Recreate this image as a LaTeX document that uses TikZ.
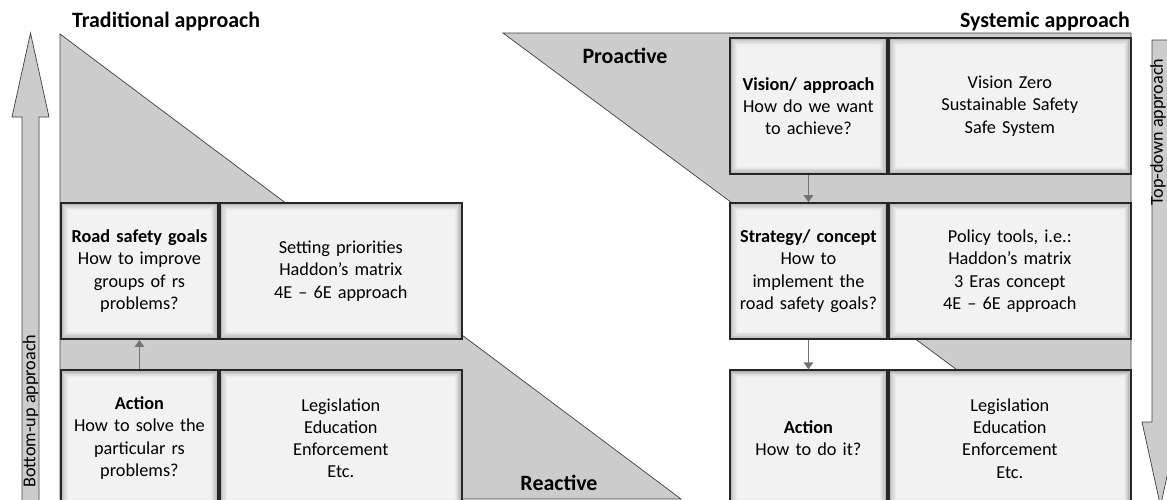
\documentclass[tikz,border=0pt]{standalone}
\usepackage{fontspec}
\setmainfont{Carlito}
\usetikzlibrary{positioning,arrows.meta}

\tikzset{
  qbox/.style={draw=black!85, line width=1.6pt, inner sep=2pt, align=center,
    minimum width=4.71cm, minimum height=4.08cm, text width=4.5cm,
    font=\fontsize{15.6}{19}\selectfont,
    path picture={
      \foreach \d/\c in {0/32,1/26,2/20,3/15,4/11,5/8,6/6,7/5}
        \fill[black!\c] ([xshift=\d pt,yshift=-\d pt]path picture bounding box.north west)
          rectangle ([xshift=-\d pt,yshift=\d pt]path picture bounding box.south east);
    }},
  abox/.style={qbox, minimum width=7.26cm, text width=7cm},
  wedge/.style={fill=black!20, draw=black!75, line width=0.6pt},
  bigarrow/.style={fill=black!20, draw=black!75, line width=0.6pt},
  flow/.style={-{Triangle[width=8pt,length=6pt]}, draw=black!55, line width=1.3pt},
  heading/.style={font=\fontsize{18.7}{22}\selectfont\bfseries},
  sidelabel/.style={font=\fontsize{15.5}{19}\selectfont, inner sep=0pt},
}

\begin{document}
\begin{tikzpicture}[x=0.03cm,y=-0.03cm]
    \path[use as bounding box, clip] (0,0) rectangle (1167,499);

    % reactive and proactive wedges
    \draw[wedge] (60,34) -- (60,499) -- (681,499) -- cycle;
    \draw[wedge] (503,33) -- (1131,33) -- (1131,499) -- cycle;

    % side arrows
    \draw[bigarrow] (22,520) -- (22,117) -- (12,117) -- (30.5,33) -- (49,117) -- (39,117) -- (39,520) -- cycle;
    \node[sidelabel, rotate=90] (bottomup) at (30.5,411) {Bottom-up approach};
    \draw[bigarrow] (1152,40) -- (1152,422) -- (1142,422) -- (1160.5,506) -- (1179,422) -- (1169,422) -- (1169,40) -- cycle;
    \node[sidelabel, rotate=90] (topdown) at (1158,132) {Top-down approach};

    % headings
    \node[heading, anchor=west] (trad) at (68,22) {Traditional approach};
    \node[heading, anchor=east] (syst) at (1134,22) {Systemic approach};
    \node[heading] (proactive) at (625,56) {Proactive};
    \node[heading] (reactive) at (559,483) {Reactive};

    % traditional side
    \node[qbox, anchor=north west] (goals) at (60,202)
        {\textbf{Road safety goals}\\How to improve\\groups of rs\\problems?};
    \node[abox, right=0pt of goals] (prio)
        {Setting priorities\\Haddon’s matrix\\4E – 6E approach};
    \node[qbox, below=0.88cm of goals] (act1)
        {\textbf{Action}\\How to solve the\\particular rs\\problems?};
    \node[abox, right=0pt of act1] (laws1)
        {Legislation\\Education\\Enforcement\\Etc.};

    % systemic side
    \node[qbox, anchor=north west] (vision) at (729,37)
        {\textbf{Vision/ approach}\\How do we want\\to achieve?};
    \node[abox, right=0pt of vision] (zero)
        {Vision Zero\\Sustainable Safety\\Safe System};
    \node[qbox, below=0.82cm of vision] (strategy)
        {\textbf{Strategy/ concept}\\How to\\implement the\\road safety goals?};
    \node[abox, right=0pt of strategy] (tools)
        {Policy tools, i.e.:\\Haddon’s matrix\\3 Eras concept\\4E – 6E approach};
    \node[qbox, below=0.88cm of strategy] (act2)
        {\textbf{Action}\\How to do it?};
    \node[abox, right=0pt of act2] (laws2)
        {Legislation\\Education\\Enforcement\\Etc.};

    \draw[flow] (act1.north) -- (goals.south);
    \draw[flow] (vision.south) -- (strategy.north);
    \draw[flow] (strategy.south) -- (act2.north);
\end{tikzpicture}
\end{document}
